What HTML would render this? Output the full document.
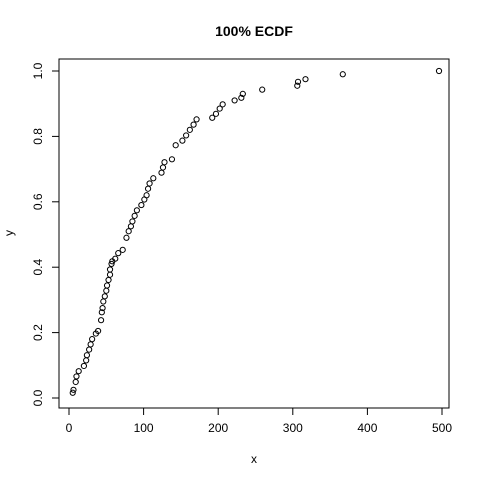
<!DOCTYPE html>
<html><head><meta charset="utf-8"><style>
body{margin:0;background:#fff}
svg text{font-family:"Liberation Sans",sans-serif;font-size:12px}
</style></head><body>
<svg id="c" width="480" height="480">
<rect width="480" height="480" fill="#fff"/>
<text x="254" y="36" text-anchor="middle" font-weight="bold" style="font-size:14px">100% ECDF</text>
<rect x="59" y="59" width="390" height="349" fill="none" stroke="#000"/>
<text x="254" y="463" text-anchor="middle">x</text>
<text transform="translate(13,233) rotate(-90)" text-anchor="middle">y</text>
<g id="ax"></g><g id="pts"></g>
</svg>
<script>
const xVals=[5,6,9,10,13,20,23,24,27,29,31,36,39,43,44,45,46,48,50,51,53,55,55,57,58,62,66,72,77,80,83,85,88,91,97,101,104,106,108,113,124,126,128,138,143,152,157,162,167,171,192,197,202,206,222,231,233,259,306,307,317,367,496];
const yVals=[0.016,0.025,0.049,0.066,0.082,0.098,0.115,0.131,0.148,0.164,0.18,0.197,0.205,0.238,0.262,0.275,0.295,0.311,0.328,0.344,0.361,0.377,0.393,0.41,0.418,0.426,0.443,0.453,0.49,0.51,0.525,0.54,0.557,0.574,0.59,0.607,0.62,0.64,0.656,0.672,0.689,0.705,0.721,0.73,0.773,0.787,0.803,0.82,0.836,0.852,0.857,0.869,0.885,0.898,0.91,0.918,0.93,0.943,0.955,0.967,0.975,0.99,1.0];
const xTicks=[0,100,200,300,400,500];
const yTicks=[0,0.2,0.4,0.6,0.8,1.0];
const yLabels=["0.0","0.2","0.4","0.6","0.8","1.0"];
const NS="http://www.w3.org/2000/svg";
const sx=v=>69+v*0.746, sy=v=>398-v*327;
const ax=document.getElementById('ax'), pts=document.getElementById('pts');
function mk(t,a,p){const e=document.createElementNS(NS,t);for(const k in a)e.setAttribute(k,a[k]);p.appendChild(e);return e;}
mk('line',{x1:sx(0),x2:sx(500),y1:408,y2:408,stroke:'#000'},ax);
xTicks.forEach(t=>{mk('line',{x1:sx(t),x2:sx(t),y1:408,y2:415,stroke:'#000'},ax);
const tx=mk('text',{x:sx(t),y:432,'text-anchor':'middle'},ax);tx.textContent=t;

});
mk('line',{x1:59,x2:59,y1:sy(0),y2:sy(1),stroke:'#000'},ax);
yTicks.forEach((t,i)=>{mk('line',{x1:52,x2:59,y1:sy(t),y2:sy(t),stroke:'#000'},ax);
const tx=mk('text',{transform:`translate(42,${sy(t)}) rotate(-90)`,'text-anchor':'middle'},ax);tx.textContent=yLabels[i];

});
xVals.forEach((x,i)=>{const c=mk('circle',{cx:sx(x),cy:sy(yVals[i]),r:2.6,fill:'none',stroke:'#000','stroke-width':1},pts);

});
</script>
</body></html>
